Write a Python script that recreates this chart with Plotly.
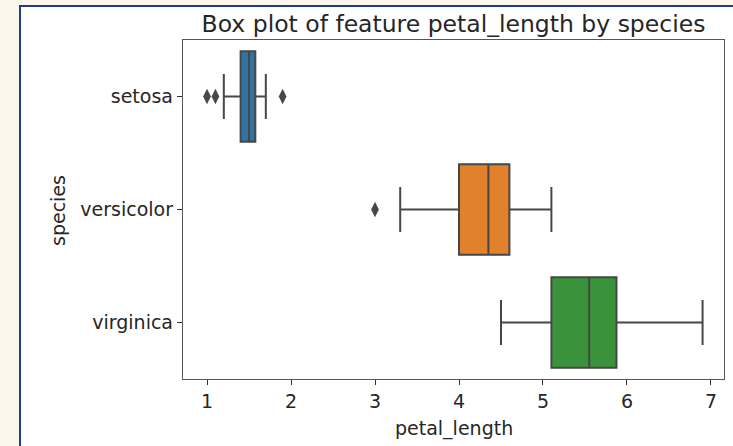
import plotly.graph_objects as go

# ---- data ----
species = ["setosa", "versicolor", "virginica"]
q1 = [1.4, 4.0, 5.1]
median = [1.5, 4.35, 5.55]
q3 = [1.575, 4.6, 5.875]
lower_whisker = [1.2, 3.3, 4.5]
upper_whisker = [1.7, 5.1, 6.9]
outlier_species = ["setosa", "setosa", "setosa", "versicolor"]
outlier_values = [1.0, 1.1, 1.9, 3.0]
colors = ["#3274a1", "#e1812c", "#3a923a"]
x_ticks = [1, 2, 3, 4, 5, 6, 7]

W, H = 733, 446
L, R, T, B = 183, 9, 40, 67
PW, PH = W - L - R, H - T - B
LINE = "#474747"
FONT = "DejaVu Sans"
TXT = "#262626"


def px(xp):
    return (xp - L) / PW


def py(yp):
    return (H - B - yp) / PH


fig = go.Figure()
for i, sp in enumerate(species):
    fig.add_trace(go.Box(
        y=[sp], q1=[q1[i]], median=[median[i]], q3=[q3[i]],
        lowerfence=[lower_whisker[i]], upperfence=[upper_whisker[i]],
        orientation="h", width=0.8, whiskerwidth=0.5,
        fillcolor=colors[i], line=dict(color=LINE, width=2),
        boxpoints=False, showlegend=False, hoverinfo="skip",
    ))

fig.add_trace(go.Scatter(
    x=outlier_values, y=outlier_species, mode="markers",
    marker=dict(symbol="diamond-tall", size=11, color=LINE, line=dict(width=0)),
    showlegend=False, hoverinfo="skip",
))

fig.update_layout(
    width=W, height=H,
    margin=dict(l=L, r=R, t=T, b=B, pad=0),
    paper_bgcolor="#fdf6ec", plot_bgcolor="white",
    font=dict(family=FONT, size=19, color=TXT),
    title=dict(text="Box plot of feature petal_length by species",
               x=px((L + W - R) / 2), xref="paper", xanchor="center",
               y=1 - 24 / H, yref="container", yanchor="middle",
               font=dict(family=FONT, size=23.5, color=TXT)),
    xaxis=dict(range=[0.714, 7.155], tickvals=x_ticks, ticks="outside",
               ticklen=5, tickwidth=1.3, tickcolor="#333",
               showline=True, linecolor="#555", linewidth=1.4, mirror=True,
               showgrid=False, zeroline=False, fixedrange=True),
    yaxis=dict(type="category", categoryorder="array", categoryarray=species,
               range=[2.5, -0.5], ticks="outside", ticklen=5, tickwidth=1.3,
               tickcolor="#333", showline=True, linecolor="#555",
               linewidth=1.4, mirror=True, showgrid=False, zeroline=False,
               fixedrange=True),
    shapes=[dict(type="rect", xref="paper", yref="paper", layer="below",
                 x0=px(20), x1=px(760), y0=py(6), y1=py(480),
                 fillcolor="white", line=dict(color="#1c3c8c", width=2))],
    annotations=[
        dict(text="petal_length", xref="paper", yref="paper",
             x=px((L + W - R) / 2), y=py(428), xanchor="center",
             yanchor="middle", showarrow=False,
             font=dict(family=FONT, size=19, color=TXT)),
        dict(text="species", xref="paper", yref="paper", x=px(58),
             y=py(211), xanchor="center", yanchor="middle", textangle=-90,
             showarrow=False, font=dict(family=FONT, size=19, color=TXT)),
    ],
)

fig.write_html(
    "out.html",
    config={"displayModeBar": False},
    post_script="document.body.style.margin='0';"
                "document.body.style.background='#fdf6ec';",
)
